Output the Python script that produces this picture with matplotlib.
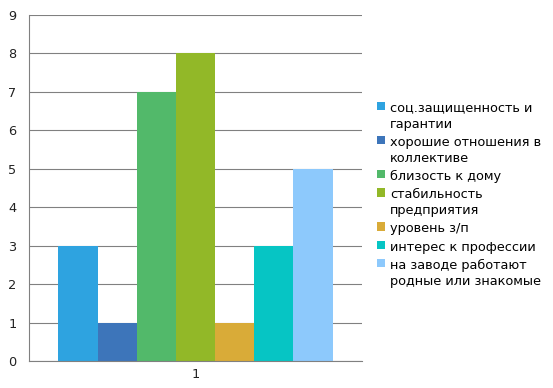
import numpy as np
import matplotlib
matplotlib.use('Agg')
import matplotlib.pyplot as plt

labels = ['соц.защищенность и\nгарантии',
          'хорошие отношения в\nколлективе',
          'близость к дому',
          'стабильность\nпредприятия',
          'уровень з/п',
          'интерес к профессии',
          'на заводе работают\nродные или знакомые']
values = [3, 1, 7, 8, 1, 3, 5]
colors = ['#2EA3E0', '#3D75BA', '#52B96A', '#92B828', '#D9AB38', '#06C5C4', '#8DC9FC']
category = ['1']

fig = plt.figure(figsize=(5.53, 3.88), dpi=100)
ax = fig.add_axes([29/553, 1 - 361/388, 333/553, 346/388])

n = len(values)
for i in range(n):
    ax.bar(i - (n - 1) / 2, values[i], width=1, color=colors[i], label=labels[i], zorder=2)

ax.set_xlim(-4.25, 4.25)
ax.set_ylim(0, 9)
ax.set_yticks(range(0, 10))
ax.set_xticks([0])
ax.set_xticklabels(category)
ax.tick_params(axis='both', length=0, labelsize=9.3, colors='#222222')
ax.tick_params(axis='y', pad=9)
ax.tick_params(axis='x', pad=5)
ax.grid(axis='y', color='#808080', linewidth=0.8, zorder=0)
for s in ['top', 'right']:
    ax.spines[s].set_visible(False)
ax.spines['left'].set_color('#808080')
ax.spines['bottom'].set_color('#808080')

leg = fig.legend(loc='center left', bbox_to_anchor=(368/553, 0.498), frameon=False,
                 fontsize=9.3, handlelength=0.62, handleheight=0.62, handletextpad=0.4,
                 labelspacing=0.4, borderpad=0.2)
for t in leg.get_texts():
    t.set_linespacing(1.3)
# marker next to the first line of wrapped labels
for col in leg._legend_handle_box.get_children():
    for row in col.get_children():
        row.align = 'top'

plt.savefig('out.png', dpi=100)
